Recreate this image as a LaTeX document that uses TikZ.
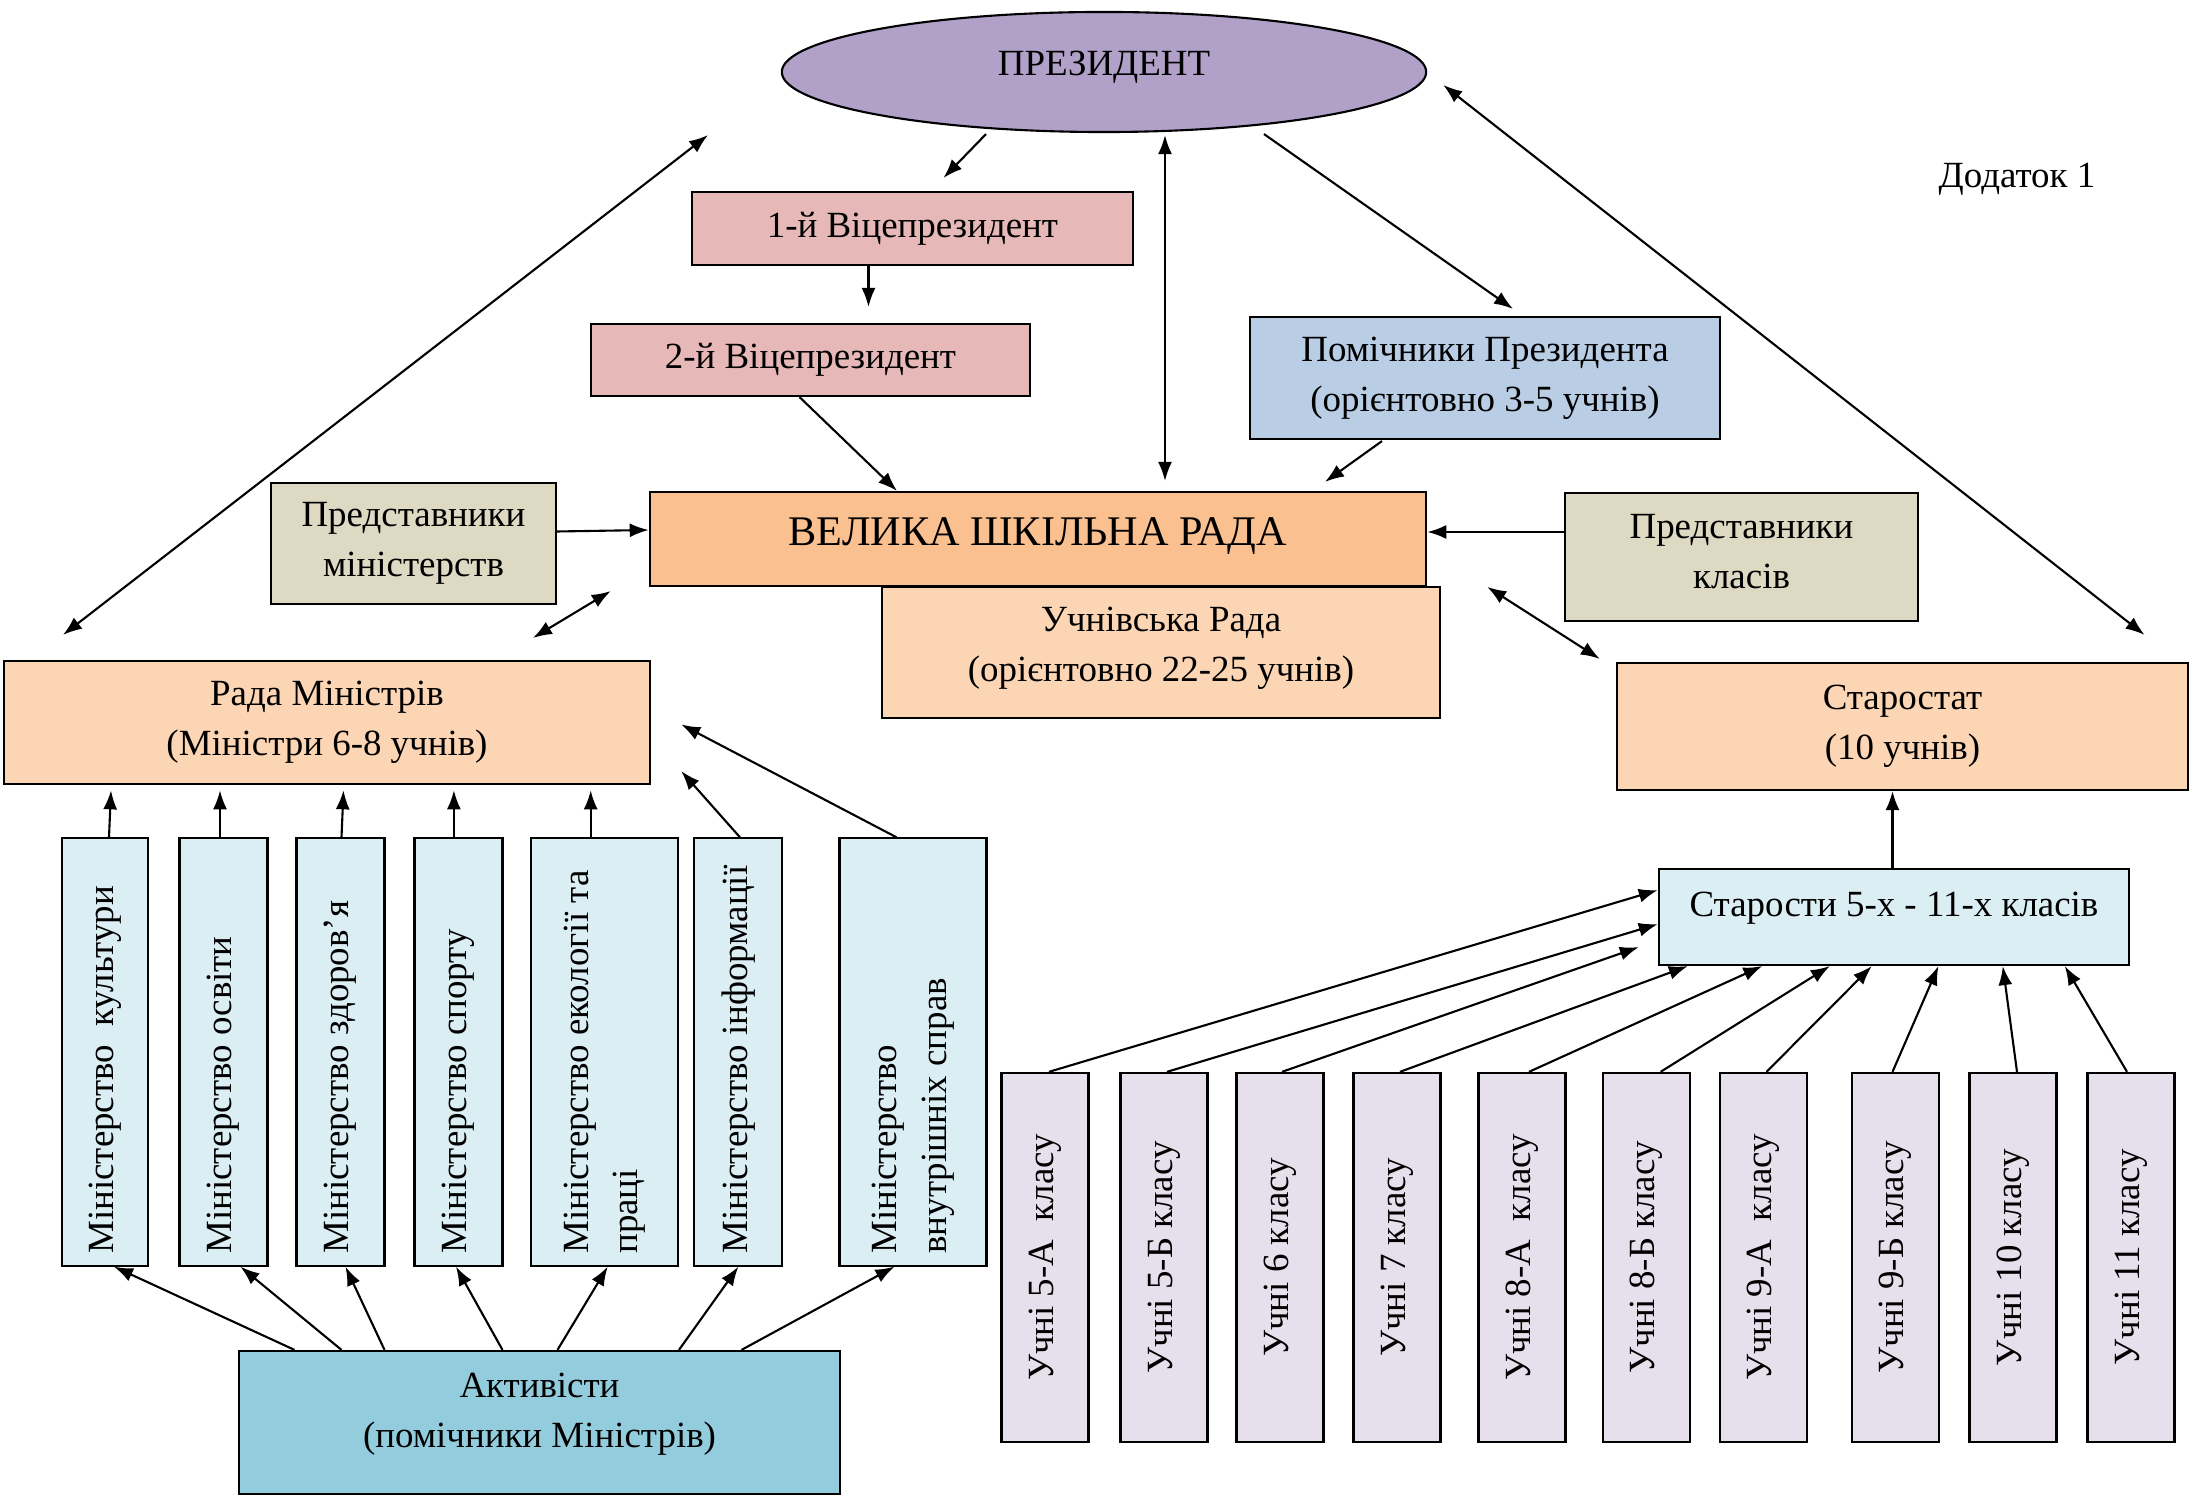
\documentclass[tikz,border=0pt]{standalone}
\usepackage{graphicx}
\usepackage{fontspec}
\setmainfont{Liberation Serif}
\usetikzlibrary{arrows.meta,calc,shapes.geometric}

\definecolor{praesfarbe}{HTML}{B1A0C7}
\definecolor{vizefarbe}{HTML}{E6B9B8}
\definecolor{helferfarbe}{HTML}{B9CDE5}
\definecolor{vertreterfarbe}{HTML}{DDD9C3}
\definecolor{ratfarbe}{HTML}{FAC090}
\definecolor{hellorange}{HTML}{FCD5B5}
\definecolor{hellblau}{HTML}{DBEEF4}
\definecolor{aktivfarbe}{HTML}{93CDDD}
\definecolor{klassenfarbe}{HTML}{E6E0EC}

% zweizeiliger Text ohne Höhe, damit er etwas weiter oben sitzt
\newcommand{\angehoben}[2]{\raisebox{#1}[0pt][0pt]{\begin{tabular}{@{}c@{}}#2\end{tabular}}}

\tikzset{
  kasten/.style={draw, line width=0.6pt, inner sep=0pt, align=center},
  pfeil/.style={line width=0.6pt, -{Latex[length=1.9mm,width=1.4mm]}},
  doppelpfeil/.style={line width=0.6pt, {Latex[length=1.9mm,width=1.4mm]}-{Latex[length=1.9mm,width=1.4mm]}},
}

\begin{document}
\begin{tikzpicture}[x=0.01cm, y=-0.01cm, font=\fontsize{10.5}{14.2}\selectfont]
    % Bildgröße festlegen (eine Einheit entspricht einem Pixel der Vorlage):
    \useasboundingbox (0,0) rectangle (2190,1495);
    % Oberer Teil: Präsident, Vizepräsidenten und Helfer
    \node[kasten, ellipse, fill=praesfarbe, minimum width=6.44cm, minimum height=1.2cm] (praesident) at (1104,72) {\raisebox{1.8mm}{ПРЕЗИДЕНТ}};
    \node[kasten, fill=vizefarbe, minimum width=4.41cm, minimum height=0.73cm] (vize1) at (912.5,228.5) {1-й Віцепрезидент};
    \node[kasten, fill=vizefarbe, minimum width=4.39cm, minimum height=0.72cm] (vize2) at (810.5,360) {2-й Віцепрезидент};
    \node[kasten, fill=helferfarbe, minimum width=4.70cm, minimum height=1.22cm] (helfer) at (1485,378) {Помічники Президента\\(орієнтовно 3-5 учнів)};
    \node (anhang) at (2017,179) {Додаток 1};
    % Mitte: der große Schulrat mit seinen Vertretern
    \node[kasten, fill=vertreterfarbe, minimum width=2.85cm, minimum height=1.21cm] (vertrmin) at (413.5,543.5) {Представники\\міністерств};
    \node[kasten, fill=ratfarbe, minimum width=7.76cm, minimum height=0.94cm, font=\fontsize{12}{14}\selectfont] (grossrat) at (1038,539) {\raisebox{1.5mm}{ВЕЛИКА ШКІЛЬНА РАДА}};
    \node[kasten, fill=hellorange, minimum width=5.58cm, minimum height=1.31cm] (schuelerrat) at (1161,652.5) {\angehoben{-0.4mm}{Учнівська Рада\\(орієнтовно 22-25 учнів)}};
    \node[kasten, fill=vertreterfarbe, minimum width=3.53cm, minimum height=1.28cm] (vertrkl) at (1741.5,557) {\angehoben{-0.6mm}{Представники\\класів}};
    \node[kasten, fill=hellorange, minimum width=6.46cm, minimum height=1.23cm] (minrat) at (327,722.5) {Рада Міністрів\\(Міністри 6-8 учнів)};
    \node[kasten, fill=hellorange, minimum width=5.71cm, minimum height=1.27cm] (starostat) at (1902.5,726.5) {Старостат\\(10 учнів)};
    % Linke Seite: die Ministerien (Text von unten nach oben)
    \foreach \nm/\xx/\ww/\txt in {m1/105/0.86cm/{Міністерство~ культури}, m2/223.5/0.88cm/{Міністерство освіти},
        m3/340.5/0.88cm/{Міністерство здоров’я}, m4/458.5/0.88cm/{Міністерство спорту},
        m5/604.7/1.47cm/{Міністерство екології та\\праці}, m6/738.4/0.88cm/{Міністерство інформації},
        m7/913/1.47cm/{Міністерство\\внутрішніх справ}}
        \node[kasten, fill=hellblau, minimum width=\ww, minimum height=4.27cm] (\nm) at (\xx,1052) {\rotatebox{90}{\parbox{4.03cm}{\raggedright\txt}}};
    \node[kasten, fill=aktivfarbe, minimum width=6.01cm, minimum height=1.43cm] (aktiv) at (539.5,1422.5) {\angehoben{0mm}{Активісти\\(помічники Міністрів)}};
    % Rechte Seite: Klassensprecher und Klassen
    \node[kasten, fill=hellblau, minimum width=4.70cm, minimum height=0.96cm] (starosty) at (1894,917) {\raisebox{0pt}[0pt][0pt]{Старости 5-х - 11-х класів}};
    \foreach \i/\xx/\txt in {1/1045/{Учні 5-А~ класу}, 2/1164/{Учні 5-Б класу}, 3/1280/{Учні 6 класу},
        4/1397/{Учні 7 класу}, 5/1522/{Учні 8-А~ класу}, 6/1646.6/{Учні 8-Б класу}, 7/1763.5/{Учні 9-А~ класу},
        8/1895.5/{Учні 9-Б класу}, 9/2013/{Учні 10 класу}, 10/2131/{Учні 11 класу}}
        \node[kasten, fill=klassenfarbe, minimum width=0.87cm, minimum height=3.69cm] (klasse\i) at (\xx,1257.5) {\rotatebox{90}{\txt}};
    % Pfeile im oberen Teil
    \draw[pfeil] ($(praesident.south)+(-118,1)$) -- ($(vize1.north)+(31,-13)$);
    \draw[pfeil] ($(vize1.south)+(-44,0)$) -- ($(vize2.north)+(58,-16)$);
    \draw[pfeil] ($(vize2.south)+(-11,0)$) -- ($(grossrat.north)+(-141,0)$);
    \draw[pfeil] ($(vertrmin.east)+(0,-12)$) -- ($(grossrat.west)+(0,-9)$);
    \draw[doppelpfeil] ($(praesident.south)+(61,2)$) -- ($(grossrat.north)+(127,-10)$);
    \draw[pfeil] ($(praesident.south)+(160,1)$) -- ($(helfer.north)+(28,-7)$);
    \draw[pfeil] ($(helfer.south)+(-103,1)$) -- ($(grossrat.north)+(287,-9)$);
    \draw[pfeil] ($(vertrkl.west)+(0,-25)$) -- ($(grossrat.east)+(0,-7)$);
    % Die langen Doppelpfeile nach links und rechts
    \draw[doppelpfeil] ($(minrat.north)+(-264,-25)$) -- ($(praesident.south)+(-396,2)$);
    \draw[doppelpfeil] ($(minrat.north)+(206,-22)$) -- ($(grossrat.south west)+(-38,4)$);
    \draw[doppelpfeil] ($(praesident.east)+(16,13)$) -- ($(starostat.north)+(242,-27)$);
    \draw[doppelpfeil] ($(schuelerrat.north east)+(46,1)$) -- ($(starostat.north west)+(-16,-3)$);
    % Ministerien zum Ministerrat
    \foreach \nm/\sa/\eb in {m1/4/6, m2/-3.5/-3.5, m3/1/3, m4/-4.6/-4.6, m5/-14/-14}
        \draw[pfeil] ($(\nm.north)+(\sa,0)$) -- ($(\nm.north)+(\eb,-47)$);
    \draw[pfeil] ($(m6.north)+(1.6,0)$) -- ($(minrat.south east)+(30,-14)$);
    \draw[pfeil] ($(m7.north)+(-16.5,0)$) -- ($(minrat.east)+(30,2)$);
    % Aktivisten zu den Ministerien
    \foreach \nm/\sa/\eb in {m1/-245/9, m2/-198/17, m3/-155/5, m4/-37/-2.5, m5/18/3, m6/139.5/0, m7/202/-18.6}
        \draw[pfeil] ($(aktiv.north)+(\sa,0)$) -- ($(\nm.south)+(\eb,0)$);
    % Klassen zu den Klassensprechern
    \draw[pfeil] ($(starosty.north)+(-1.5,0)$) -- ($(starostat.south)+(-10,0)$);
    \foreach \i/\sa/\ex/\ey in {1/4/0/-76, 2/3/0/-42, 3/2/-19/-19, 4/3/30/0, 5/7/104.5/0, 6/14/172/0,
        7/3/214/0, 8/-3/280.6/0, 9/4/345/0, 10/-4/407/0}
        \draw[pfeil] ($(klasse\i.north)+(\sa,0)$) -- ($(starosty.south west)+(\ex,\ey)$);
\end{tikzpicture}
\end{document}
